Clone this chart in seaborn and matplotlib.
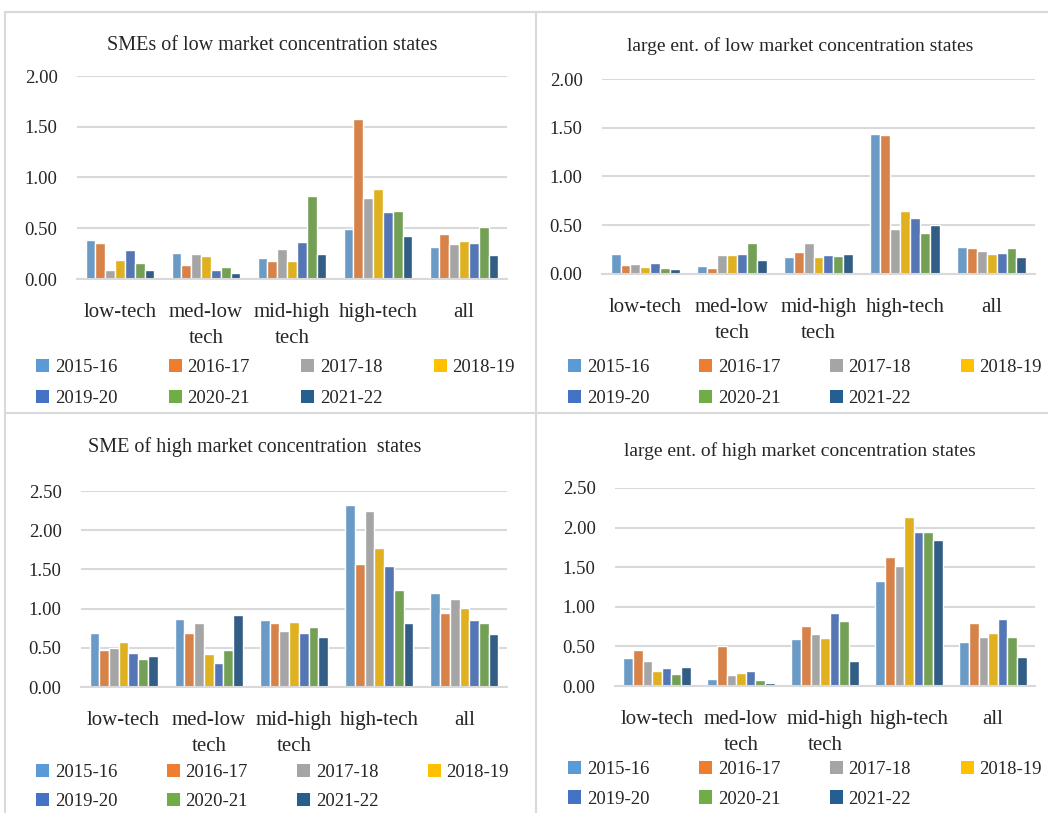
import pandas as pd
import numpy as np
import matplotlib
matplotlib.use('Agg')
import matplotlib.pyplot as plt
from matplotlib.patches import Patch
from matplotlib.lines import Line2D
import seaborn as sns

sectors = ['low-tech', 'med-low\ntech', 'mid-high\ntech', 'high-tech', 'all']
years = ['2015-16', '2016-17', '2017-18', '2018-19', '2019-20', '2020-21', '2021-22']
colors = ['#5B9BD5', '#ED7D31', '#A5A5A5', '#FFC000', '#4472C4', '#70AD47', '#255E91']

# values[sector][year]
sme_low = [
    [0.38, 0.35, 0.09, 0.19, 0.29, 0.16, 0.09],
    [0.26, 0.14, 0.25, 0.23, 0.09, 0.12, 0.06],
    [0.21, 0.18, 0.30, 0.18, 0.36, 0.82, 0.25],
    [0.49, 1.58, 0.80, 0.89, 0.66, 0.67, 0.42],
    [0.32, 0.44, 0.34, 0.37, 0.35, 0.51, 0.24],
]
large_low = [
    [0.20, 0.09, 0.10, 0.07, 0.11, 0.06, 0.05],
    [0.08, 0.06, 0.19, 0.19, 0.20, 0.32, 0.14],
    [0.17, 0.23, 0.32, 0.17, 0.19, 0.18, 0.21],
    [1.44, 1.43, 0.46, 0.65, 0.57, 0.42, 0.50],
    [0.28, 0.27, 0.24, 0.21, 0.22, 0.27, 0.17],
]
sme_high = [
    [0.69, 0.47, 0.50, 0.57, 0.43, 0.36, 0.40],
    [0.87, 0.69, 0.82, 0.42, 0.31, 0.47, 0.92],
    [0.85, 0.81, 0.71, 0.83, 0.69, 0.76, 0.64],
    [2.32, 1.57, 2.24, 1.77, 1.54, 1.24, 0.82],
    [1.20, 0.95, 1.12, 1.01, 0.85, 0.81, 0.68],
]
large_high = [
    [0.35, 0.46, 0.31, 0.19, 0.23, 0.15, 0.24],
    [0.09, 0.50, 0.14, 0.17, 0.19, 0.08, 0.04],
    [0.59, 0.76, 0.66, 0.61, 0.92, 0.82, 0.32],
    [1.32, 1.63, 1.51, 2.14, 1.94, 1.95, 1.84],
    [0.56, 0.79, 0.62, 0.67, 0.85, 0.62, 0.37],
]

titles = ['SMEs of low market concentration states',
          'large ent. of low market concentration states',
          'SME of high market concentration  states',
          'large ent. of high market concentration states']

sns.set_style('white')
plt.rcParams['font.family'] = ['Liberation Serif', 'DejaVu Serif']

W, H = 1048, 813
fig = plt.figure(figsize=(W / 100, H / 100), dpi=100)


def fx(px):
    return px / W


def fy(py):
    return 1 - py / H


# panel layout in pixels: axes left, right, top, bottom; title x, y, size;
# legend left, right, top, row spacing
panels = [
    dict(data=sme_low, ymax=2.0, box=(77, 507, 76, 279), title=(272, 46, 14.5),
         leg=(36, 515, 360, 0.75)),
    dict(data=large_low, ymax=2.0, box=(602, 1035, 79, 274), title=(800, 46, 14),
         leg=(568, 1042, 360, 0.75)),
    dict(data=sme_high, ymax=2.5, box=(81, 507, 491, 687), title=(255, 447, 14.5),
         leg=(36, 509, 765, 0.6)),
    dict(data=large_high, ymax=2.5, box=(615, 1035, 488, 686), title=(800, 451, 14),
         leg=(568, 1042, 762, 0.65)),
]

for p, title in zip(panels, titles):
    l, r, t, b = p['box']
    ax = fig.add_axes([fx(l), fy(b), fx(r - l), (b - t) / H])
    rows = []
    for s, vals in zip(sectors, p['data']):
        for y, v in zip(years, vals):
            rows.append({'sector': s, 'year': y, 'value': v})
    df = pd.DataFrame(rows)
    sns.barplot(data=df, x='sector', y='value', hue='year', order=sectors,
                hue_order=years, palette=colors, width=0.8, edgecolor='white',
                linewidth=1, legend=False, ax=ax)
    ax.set_ylim(0, p['ymax'])
    ax.set_xlim(-0.5, 4.5)
    ticks = np.arange(0, p['ymax'] + 0.01, 0.5)
    ax.set_yticks(ticks)
    ax.set_yticklabels([f'{v:.2f}' for v in ticks])
    ax.yaxis.grid(True, color='#D9D9D9', linewidth=1.5)
    ax.set_axisbelow(True)
    for side in ['top', 'right', 'left']:
        ax.spines[side].set_visible(False)
    ax.spines['bottom'].set_color('#D9D9D9')
    ax.spines['bottom'].set_linewidth(1.5)
    ax.tick_params(axis='both', length=0, colors='#262626')
    ax.tick_params(axis='y', labelsize=13.5, pad=14)
    ax.tick_params(axis='x', labelsize=15, pad=17)
    for lab in ax.get_xticklabels():
        lab.set_linespacing(1.5)
    ax.set_xlabel('')
    ax.set_ylabel('')

    tx, ty, ts = p['title']
    fig.text(fx(tx), fy(ty), title, ha='center', va='center', fontsize=ts,
             color='#262626')

    handles = [Patch(facecolor=c, edgecolor='none') for c in colors]
    order = [0, 4, 1, 5, 2, 6, 3]
    ll, lr, lt, sp = p['leg']
    fig.legend([handles[i] for i in order], [years[i] for i in order],
               loc='upper left', ncol=4, mode='expand',
               bbox_to_anchor=(fx(ll), fy(lt), fx(lr - ll), 0.001),
               bbox_transform=fig.transFigure, frameon=False, fontsize=13.5,
               handlelength=0.7, handleheight=0.7, handletextpad=0.3,
               labelspacing=sp, borderpad=0, borderaxespad=0)

# panel frame lines
frame_col = '#D9D9D9'
for xs, ys in [((5, 1048), (12, 12)), ((5, 5), (12, 813)), ((536, 536), (12, 813)),
               ((5, 1048), (413, 413))]:
    fig.add_artist(Line2D([fx(xs[0]), fx(xs[1])], [fy(ys[0]), fy(ys[1])],
                          color=frame_col, linewidth=1.5, transform=fig.transFigure))

plt.savefig('out.png', dpi=100)
plt.close()
